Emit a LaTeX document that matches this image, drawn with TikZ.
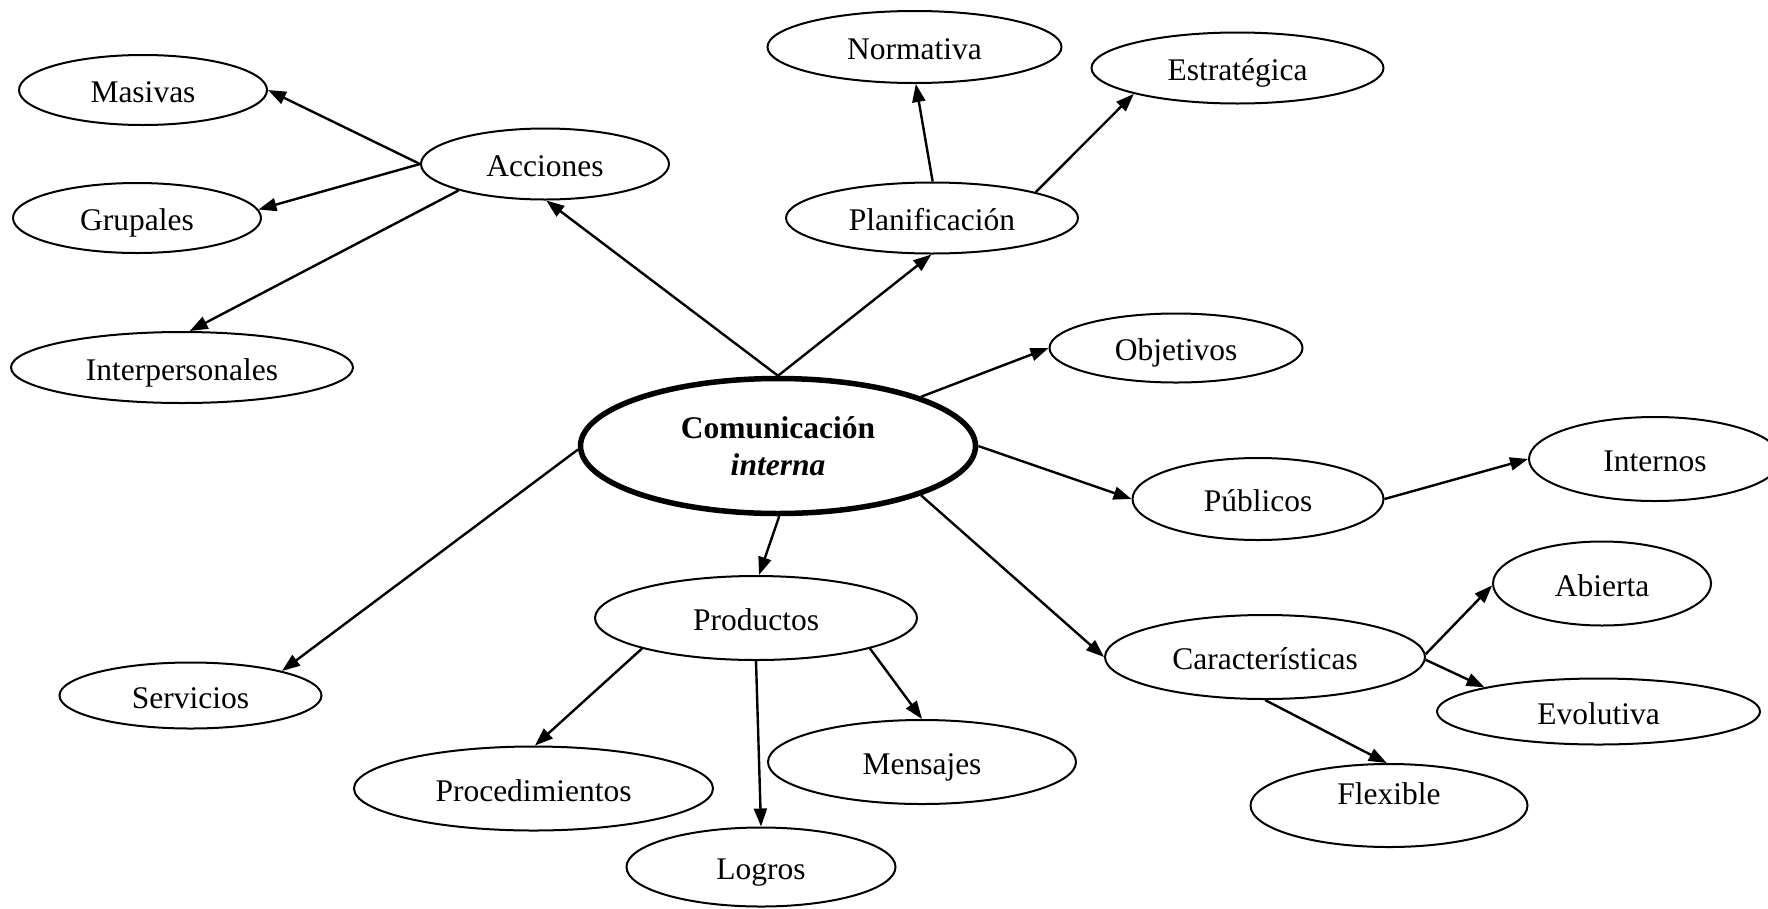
\documentclass[tikz,border=0pt]{standalone}
\usepackage{fontspec}
\setmainfont{Liberation Serif}
\usetikzlibrary{shapes.geometric,arrows.meta}
\begin{document}
\begin{tikzpicture}[x=1pt,y=-1pt,
  concept/.style={ellipse, draw, line width=2pt, inner sep=0pt,
    font=\fontsize{31.5}{36}\selectfont, text height=25.4pt, text depth=0pt},
  core/.style={ellipse, draw, line width=5.5pt, inner sep=0pt, align=center,
    font=\fontsize{31.5}{36.7}\selectfont},
  link/.style={-{Triangle[length=18pt,width=13pt]}, line width=2.4pt}]
\useasboundingbox (0,0) rectangle (1768,908);

% central concept
\node[core, minimum width=395pt, minimum height=135pt] (com) at (778,446)
  {\textbf{Comunicación}\\\textbf{\textit{interna}}};

% first level
\node[concept, minimum width=248pt, minimum height=71pt] (acciones) at (545,164) {Acciones};
\node[concept, minimum width=292pt, minimum height=71pt] (planif) at (932,218) {Planificación};
\node[concept, minimum width=253pt, minimum height=69pt] (objetivos) at (1176,348) {Objetivos};
\node[concept, minimum width=251pt, minimum height=82pt] (publicos) at (1258,499) {Públicos};
\node[concept, minimum width=320pt, minimum height=84pt] (caract) at (1265,657) {Características};
\node[concept, minimum width=322pt, minimum height=84pt] (productos) at (756,618) {Productos};
\node[concept, minimum width=262pt, minimum height=66pt] (servicios) at (190.5,695.5) {Servicios};

% second level
\node[concept, minimum width=248pt, minimum height=70pt] (masivas) at (143,90) {Masivas};
\node[concept, minimum width=248pt, minimum height=70pt] (grupales) at (137,218) {Grupales};
\node[concept, minimum width=342pt, minimum height=71pt] (interp) at (182,367.5) {Interpersonales};
\node[concept, minimum width=294pt, minimum height=72pt] (normativa) at (914.5,47) {Normativa};
\node[concept, minimum width=292pt, minimum height=71pt] (estrategica) at (1237.5,68) {Estratégica};
\node[concept, minimum width=252pt, minimum height=84pt] (internos) at (1655,459) {Internos};
\node[concept, minimum width=218pt, minimum height=84pt] (abierta) at (1602,583.5) {Abierta};
\node[concept, minimum width=323pt, minimum height=66pt] (evolutiva) at (1598.5,711.5) {Evolutiva};
\node[concept, minimum width=277pt, minimum height=83pt, text depth=26.6pt] (flexible) at (1389,805.5) {Flexible};
\node[concept, minimum width=308pt, minimum height=84pt] (mensajes) at (922,762) {Mensajes};
\node[concept, minimum width=359pt, minimum height=84pt] (procedimientos) at (533.5,788.5) {Procedimientos};
\node[concept, minimum width=269pt, minimum height=79pt] (logros) at (761,867) {Logros};

% connectors
\draw[link] (com.90) -- (acciones.-88);
\draw[link] (com.90) -- (planif.-91);
\draw[link] (planif.89) -- (normativa.-88);
\draw[link] (planif.14) -- (estrategica.194);
\draw[link] (acciones.180) -- (masivas.0);
\draw[link] (acciones.180) -- (grupales.4);
\draw[link] (acciones.197) -- (interp.78);
\draw[link] (com.19) -- (objetivos.180);
\draw[link] (com.0) -- (publicos.180);
\draw[link] (publicos.0) -- (internos.180);
\draw[link] (com.-19) -- (caract.180);
\draw[link] (caract.1) -- (abierta.181);
\draw[link] (caract.-1) -- (evolutiva.168);
\draw[link] (caract.-90) -- (flexible.93);
\draw[link] (com.-89) -- (productos.86);
\draw[link] (com.181) -- (servicios.15);
\draw[link] (productos.195) -- (procedimientos.88);
\draw[link] (productos.-90) -- (logros.90);
\draw[link] (productos.-15) -- (mensajes.90);
\end{tikzpicture}
\end{document}
